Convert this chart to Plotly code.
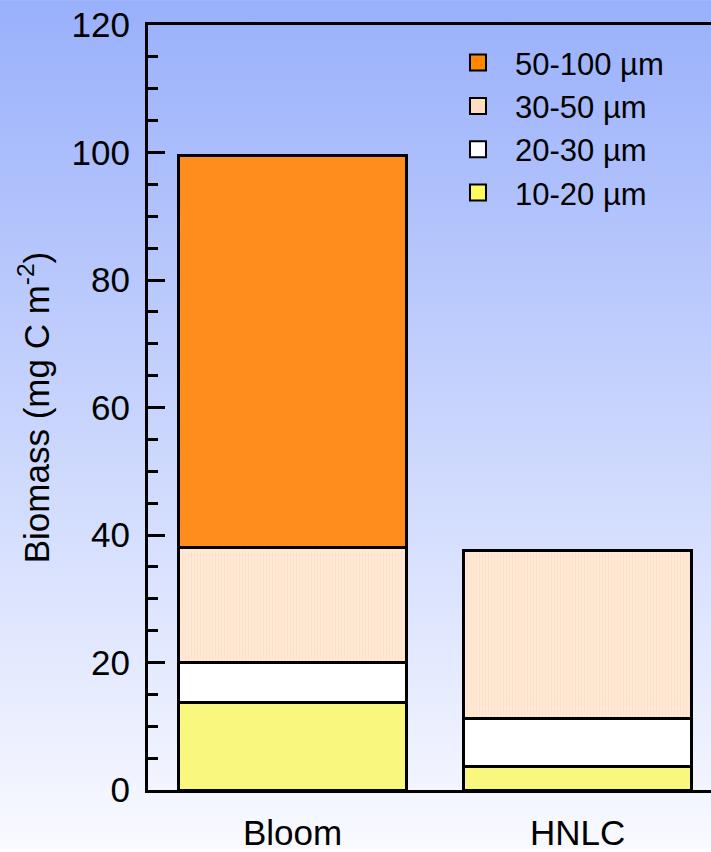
import base64
import plotly.graph_objects as go

# ---- data ----
sites = ["Bloom", "HNLC"]
size_classes = ["10-20 µm", "20-30 µm", "30-50 µm", "50-100 µm"]
biomass_10_20 = [13.75, 3.75]
biomass_20_30 = [6.25, 7.5]
biomass_30_50 = [18.0, 26.25]
biomass_50_100 = [61.5, 0.0]
y_ticks = [0, 20, 40, 60, 80, 100, 120]

series = [biomass_10_20, biomass_20_30, biomass_30_50, biomass_50_100]
bar_colors = ["#faf77f", "#ffffff", "#ffe4cc", "#fe8d1e"]
legend_colors = ["#fcfb60", "#ffffff", "#ffdfbf", "#ff8800"]

FONT = "Liberation Sans, Arial, Helvetica, sans-serif"
W, H = 711, 852
ML, MR, MT, MB = 148, 0, 25, 59

fig = go.Figure()
for name, vals, col in zip(size_classes, series, bar_colors):
    marker = dict(color=col, line=dict(color="black", width=3))
    if name == "30-50 µm":
        marker["pattern"] = dict(shape="|", size=3, solidity=0.35,
                                 fgcolor="#fdd9bb", bgcolor="#ffe8d6")
    fig.add_trace(go.Bar(x=sites, y=vals, name=name, marker=marker,
                         width=0.8, showlegend=False))

# legend entries (legend-only markers)
for name, col in zip(size_classes, legend_colors):
    fig.add_trace(go.Scatter(x=[None], y=[None], mode="markers", name=name,
                             marker=dict(symbol="square", size=16, color=col,
                                         line=dict(color="black", width=2))))

svg = (f'<svg xmlns="http://www.w3.org/2000/svg" width="{W}" height="{H}" '
       f'preserveAspectRatio="none"><defs><linearGradient id="g" x1="0" y1="0" '
       f'x2="0" y2="1"><stop offset="0" stop-color="#99b0fb"/>'
       f'<stop offset="1" stop-color="#f9faff"/></linearGradient></defs>'
       f'<rect width="{W}" height="{H}" fill="url(#g)"/></svg>')
src = "data:image/svg+xml;base64," + base64.b64encode(svg.encode()).decode()

pw, ph = W - ML - MR, H - MT - MB

fig.update_layout(
    width=W, height=H,
    margin=dict(l=ML, r=MR, t=MT, b=MB, pad=0),
    barmode="stack",
    paper_bgcolor="rgba(0,0,0,0)",
    plot_bgcolor="rgba(0,0,0,0)",
    font=dict(family=FONT, size=32, color="black"),
    images=[dict(source=src, xref="paper", yref="paper",
                 x=-ML / pw, y=1 + MT / ph, sizex=W / pw, sizey=H / ph,
                 xanchor="left", yanchor="top", sizing="stretch", layer="below")],
    legend=dict(x=0.5204, y=0.9857, xanchor="left", yanchor="top",
                traceorder="reversed", font=dict(size=31), itemwidth=64,
                bgcolor="rgba(0,0,0,0)", itemsizing="trace", tracegroupgap=0),
    xaxis=dict(type="category", range=[-0.507, 1.468], showline=True,
               linecolor="black", linewidth=3, mirror=True, ticks="",
               showgrid=False, zeroline=False, ticklabelstandoff=10,
               tickfont=dict(size=35)),
    yaxis=dict(range=[0, 120], tickvals=y_ticks, showline=True,
               linecolor="black", linewidth=3, ticks="inside", ticklen=17,
               tickwidth=3, tickcolor="black", showgrid=False, zeroline=False,
               ticklabelstandoff=8, tickfont=dict(size=35),
               minor=dict(dtick=5, ticks="inside", ticklen=10, tickwidth=3,
                          tickcolor="black", showgrid=False),
               title=dict(text="Biomass (mg C m<sup>-2</sup>)",
                          font=dict(size=35), standoff=12)),
    yaxis2=dict(range=[0, 120], tickvals=y_ticks, overlaying="y", side="right",
                showline=False, ticks="inside", ticklen=5, tickwidth=3,
                tickcolor="black", showticklabels=False, showgrid=False,
                zeroline=False),
)

fig.write_html("out.html",
               config={"displayModeBar": False},
               post_script="document.body.style.margin='0';"
                           "document.body.style.overflow='hidden';")
